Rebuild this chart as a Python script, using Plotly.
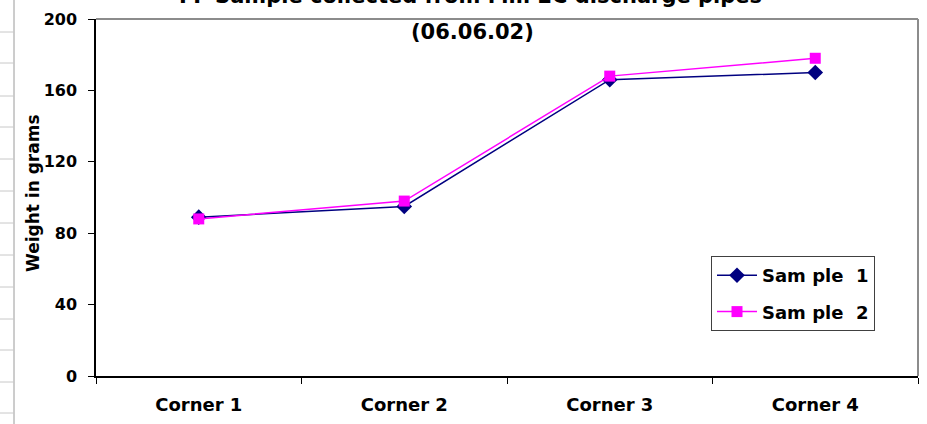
import plotly.graph_objects as go

categories = ["Corner 1", "Corner 2", "Corner 3", "Corner 4"]
sample1 = [89, 95, 166, 170]
sample2 = [88, 98, 168, 178]
series_names = ["Sam ple  1", "Sam ple  2"]
title_line1 = "FF Sample collected from Mill 2C discharge pipes"
title_line2 = "(06.06.02)"
y_title = "Weight in grams"
y_ticks = [0, 40, 80, 120, 160, 200]

W, H = 927, 424
L, R, T, B = 96, 918, 19, 376
FONT = "DejaVu Sans"

def px(x):
    return (x - L) / (R - L)

def py(y):
    return (B - y) / (B - T)

fig = go.Figure()
fig.add_trace(go.Scatter(
    x=categories, y=sample1, name=series_names[0], mode="lines+markers",
    legendgroup="s1",
    line=dict(color="#000080", width=1.5),
    marker=dict(symbol="diamond", size=12, color="#000080"),
))
fig.add_trace(go.Scatter(
    x=categories, y=sample2, name=series_names[1], mode="lines+markers",
    legendgroup="s2",
    line=dict(color="#FF00FF", width=1.5),
    marker=dict(symbol="square", size=11, color="#FF00FF"),
))

shapes = []
# spreadsheet background lines on the left
shapes.append(dict(type="line", xref="paper", yref="paper",
                   x0=px(14), x1=px(14), y0=py(0), y1=py(424),
                   line=dict(color="#9a9a9a", width=1)))
for yy in [32, 63, 96, 127, 159, 191, 223, 255, 287, 319, 350, 382, 413]:
    shapes.append(dict(type="line", xref="paper", yref="paper",
                       x0=px(0), x1=px(14), y0=py(yy), y1=py(yy),
                       line=dict(color="#c8c8c8", width=1)))
# plot-area border top and right
shapes.append(dict(type="line", xref="paper", yref="paper",
                   x0=0, x1=1, y0=1, y1=1, line=dict(color="#8c8c8c", width=2)))
shapes.append(dict(type="line", xref="paper", yref="paper",
                   x0=1, x1=1, y0=0, y1=1, line=dict(color="#8c8c8c", width=2)))

annotations = [
    dict(text="<b>" + title_line1 + "</b>", xref="paper", yref="paper",
         x=px(470), y=py(-4), xanchor="center", yanchor="middle",
         showarrow=False, font=dict(family=FONT, size=21, color="#000")),
    dict(text="<b>" + title_line2 + "</b>", xref="paper", yref="paper",
         x=px(472), y=py(32), xanchor="center", yanchor="middle",
         showarrow=False, font=dict(family=FONT, size=21, color="#000")),
    dict(text="<b>" + y_title + "</b>", xref="paper", yref="paper",
         x=px(33), y=py(193), xanchor="center", yanchor="middle", textangle=-90,
         showarrow=False, font=dict(family=FONT, size=17, color="#000")),
]

fig.update_layout(
    width=W, height=H,
    margin=dict(l=L, r=W - R, t=T, b=H - B, pad=0),
    paper_bgcolor="white", plot_bgcolor="white",
    showlegend=True,
    legend=dict(
        x=px(711), y=py(256), xanchor="left", yanchor="top",
        bordercolor="#404040", borderwidth=1, bgcolor="white",
        font=dict(family=FONT, size=18, color="#000", weight="bold"),
        tracegroupgap=10, itemwidth=40,
    ),
    shapes=shapes,
    annotations=annotations,
)
fig.update_xaxes(
    type="category", range=[-0.5, 3.5], tickson="boundaries",
    ticks="outside", ticklen=6, tickcolor="#000", tickwidth=1,
    showline=True, linecolor="#000", linewidth=1.5,
    showgrid=False, zeroline=False, automargin=False,
    tickfont=dict(family=FONT, size=18, color="#000", weight="bold"),
    ticklabelstandoff=12,
)
fig.update_yaxes(
    range=[0, 200], tickvals=y_ticks,
    ticks="outside", ticklen=6, tickcolor="#000", tickwidth=1,
    showline=True, linecolor="#000", linewidth=1.5,
    showgrid=False, zeroline=False, automargin=False,
    tickfont=dict(family=FONT, size=16, color="#000", weight="bold"),
    ticklabelstandoff=8,
)

fig.write_html("out.html", config={"displayModeBar": False},
               post_script="document.body.style.margin='0';")
